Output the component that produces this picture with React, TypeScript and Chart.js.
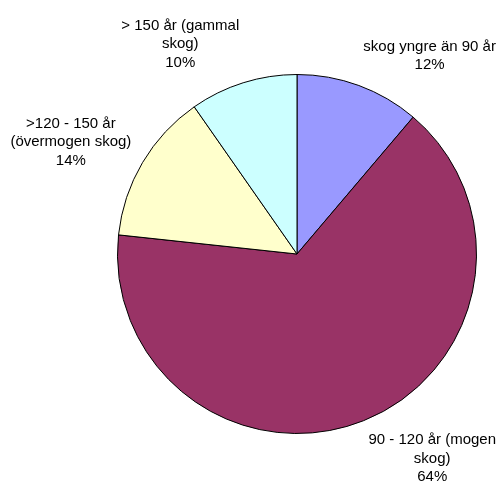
import React, { useEffect, useRef } from "react";
import { Chart, registerables } from "chart.js";

Chart.register(...registerables);

const categories = [
  "skog yngre än 90 år",
  "90 - 120 år (mogen skog)",
  ">120 - 150 år (övermogen skog)",
  "> 150 år (gammal skog)",
];
// slice sizes as drawn in the picture
const values = [11.2, 65.5, 13.6, 9.7];
const percentLabels = ["12%", "64%", "14%", "10%"];
const nameLines = [
  ["skog yngre än 90 år"],
  ["90 - 120 år (mogen", "skog)"],
  [">120 - 150 år", "(övermogen skog)"],
  ["> 150 år (gammal", "skog)"],
];
const colors = ["#9999FF", "#993366", "#FFFFCC", "#CCFFFF"];

const FONT = "15px 'Liberation Sans', Arial, sans-serif";
const LINE_H = 18.5;
const GAP = 13;

const labelPlugin = {
  id: "outsideLabels",
  afterDraw(chart: any) {
    const ctx = chart.ctx;
    const meta = chart.getDatasetMeta(0);
    ctx.save();
    ctx.font = FONT;
    ctx.fillStyle = "#000";
    ctx.textAlign = "center";
    ctx.textBaseline = "middle";
    meta.data.forEach((arc: any, i: number) => {
      const mid = (arc.startAngle + arc.endAngle) / 2;
      const dx = Math.cos(mid);
      const dy = Math.sin(mid);
      const px = arc.x + dx * (arc.outerRadius + GAP);
      const py = arc.y + dy * (arc.outerRadius + GAP);
      const lines = [...nameLines[i], percentLabels[i]];
      const w = Math.max(...lines.map((l) => ctx.measureText(l).width));
      const h = lines.length * LINE_H;
      const left = dx >= 0 ? px : px - w;
      const t = (1 + dy) / 2;
      const top = py - h * (1 - t);
      lines.forEach((l, k) => {
        ctx.fillText(l, left + w / 2, top + LINE_H * (k + 0.5));
      });
    });
    ctx.restore();
  },
};

export default function App() {
  const ref = useRef<HTMLCanvasElement>(null);
  useEffect(() => {
    if (!ref.current) return;
    const chart = new Chart(ref.current, {
      type: "pie",
      data: {
        labels: categories,
        datasets: [
          {
            data: values,
            backgroundColor: colors,
            borderColor: "#000000",
            borderWidth: 1,
          },
        ],
      },
      options: {
        responsive: false,
        animation: false,
        layout: { padding: { left: 117, right: 27, top: 74, bottom: 51 } },
        plugins: {
          legend: { display: false },
          tooltip: { enabled: false },
        },
      },
      plugins: [labelPlugin],
    });
    return () => chart.destroy();
  }, []);
  return (
    <div style={{ position: "absolute", left: 0, top: 0, width: 504, height: 485, background: "#fff" }}>
      <canvas ref={ref} width={504} height={485} />
    </div>
  );
}
